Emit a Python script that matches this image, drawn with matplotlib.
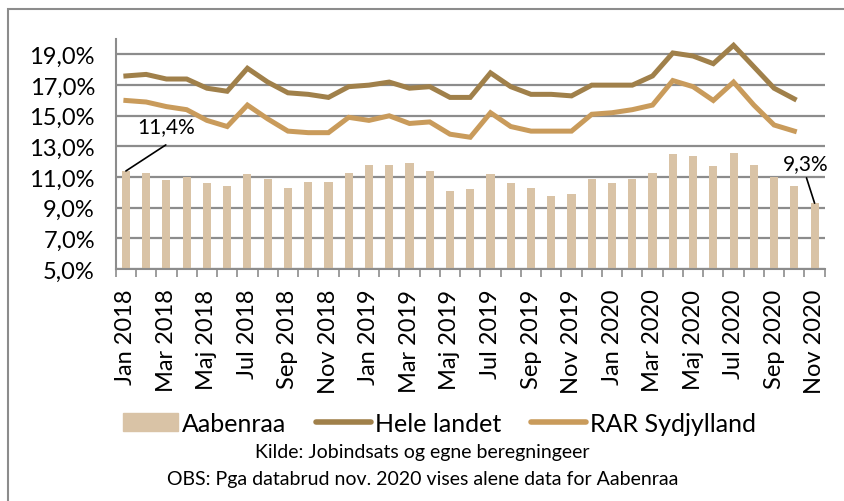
import matplotlib.pyplot as plt
import matplotlib.patches as mpatches
from matplotlib.lines import Line2D
import numpy as np

# ---------------------------------------------------------------------------
# Data (ledighed i procent)
# ---------------------------------------------------------------------------
MONTHS = ["Jan", "Feb", "Mar", "Apr", "Maj", "Jun",
          "Jul", "Aug", "Sep", "Okt", "Nov", "Dec"]
YEARS = [2018, 2019, 2020]
categories = [f"{m} {y}" for y in YEARS for m in MONTHS][:35]   # Jan 2018 - Nov 2020

aabenraa = [11.4, 11.3, 10.8, 11.0, 10.6, 10.4, 11.2, 10.9, 10.3, 10.7, 10.7, 11.3,
            11.8, 11.8, 11.9, 11.4, 10.1, 10.2, 11.2, 10.6, 10.3, 9.8, 9.9, 10.9,
            10.6, 10.9, 11.3, 12.5, 12.4, 11.7, 12.6, 11.8, 11.0, 10.4, 9.3]

hele_landet = [17.6, 17.7, 17.4, 17.4, 16.8, 16.6, 18.1, 17.2, 16.5, 16.4, 16.2, 16.9,
               17.0, 17.2, 16.8, 16.9, 16.2, 16.2, 17.8, 16.9, 16.4, 16.4, 16.3, 17.0,
               17.0, 17.0, 17.6, 19.1, 18.9, 18.4, 19.6, 18.2, 16.8, 16.1]

rar_sydjylland = [16.0, 15.9, 15.6, 15.4, 14.7, 14.3, 15.7, 14.8, 14.0, 13.9, 13.9, 14.9,
                  14.7, 15.0, 14.5, 14.6, 13.8, 13.6, 15.2, 14.3, 14.0, 14.0, 14.0, 15.1,
                  15.2, 15.4, 15.7, 17.3, 16.9, 16.0, 17.2, 15.7, 14.4, 14.0]

yticks = [5, 7, 9, 11, 13, 15, 17, 19]

# ---------------------------------------------------------------------------
# Style
# ---------------------------------------------------------------------------
BAR_COL = "#D9C3A6"
DARK = "#A0804A"
LIGHT = "#C99B5B"
GRID = "#8C8C8C"

plt.rcParams["font.family"] = ["Lato", "DejaVu Sans"]

fig = plt.figure(figsize=(8.45, 5.02), dpi=100)
ax = fig.add_axes([0.137, 0.462, 0.839, 0.458])

x = np.arange(len(categories))
ax.bar(x, aabenraa, width=0.4, color=BAR_COL, zorder=2)
ax.plot(np.arange(len(hele_landet)), hele_landet, color=DARK, lw=3.6,
        solid_joinstyle="miter", zorder=3)
ax.plot(np.arange(len(rar_sydjylland)), rar_sydjylland, color=LIGHT, lw=3.6,
        solid_joinstyle="miter", zorder=3)

ax.set_ylim(5, 20)
ax.set_xlim(-0.5, len(categories) - 0.5)
ax.set_yticks(yticks)
ax.set_yticklabels([f"{v:.1f}%".replace(".", ",") for v in yticks], fontsize=17)
ax.yaxis.grid(True, color=GRID, lw=1.6, zorder=0)
ax.set_axisbelow(True)
ax.tick_params(axis="y", length=0, pad=15)

# Excel-style category ticks between bars, labels on every second month
ax.set_xticks(np.arange(-0.5, len(categories)), minor=True)
ax.tick_params(axis="x", which="minor", length=6, color=GRID, width=1.2)
ax.set_xticks(x[::2])
ax.set_xticklabels(categories[::2], rotation=90, fontsize=17)
ax.tick_params(axis="x", which="major", length=0, pad=14)

for side in ["top", "right"]:
    ax.spines[side].set_visible(False)
for side in ["left", "bottom"]:
    ax.spines[side].set_color(GRID)
    ax.spines[side].set_linewidth(1.5)

# Data labels for first and last bar, with leader lines
ax.text(1.97, 13.7, "11,4%", fontsize=15, ha="center", va="bottom")
ax.annotate("", xy=(0, aabenraa[0]), xytext=(1.97, 13.1),
            arrowprops=dict(arrowstyle="-", color="black", lw=1.2,
                            shrinkA=0, shrinkB=0))
ax.text(33.56, 11.25, "9,3%", fontsize=15, ha="center", va="bottom")
ax.annotate("", xy=(34, aabenraa[-1]), xytext=(33.6, 10.95),
            arrowprops=dict(arrowstyle="-", color="black", lw=1.2,
                            shrinkA=0, shrinkB=0))

# Legend
handles = [
    mpatches.Patch(color=BAR_COL, label="Aabenraa"),
    Line2D([], [], color=DARK, lw=4, label="Hele landet", solid_capstyle="round"),
    Line2D([], [], color=LIGHT, lw=4, label="RAR Sydjylland", solid_capstyle="round"),
]
fig.legend(handles=handles, loc="center", bbox_to_anchor=(0.52, 0.155), ncol=3,
           frameon=False, fontsize=18, handlelength=2.2, handletextpad=0.15,
           columnspacing=1.2)

fig.text(0.5, 0.098, "Kilde: Jobindsats og egne beregningeer", ha="center",
         va="center", fontsize=14)
fig.text(0.5, 0.045, "OBS: Pga databrud nov. 2020 vises alene data for Aabenraa",
         ha="center", va="center", fontsize=14)

# Outer chart frame
fig.patches.append(mpatches.Rectangle((8 / 845, -0.05), 1.1, 1 - 10 / 502 + 0.05,
                                      transform=fig.transFigure, fill=False,
                                      edgecolor=GRID, lw=1.5))

fig.savefig("out.png", dpi=100)
